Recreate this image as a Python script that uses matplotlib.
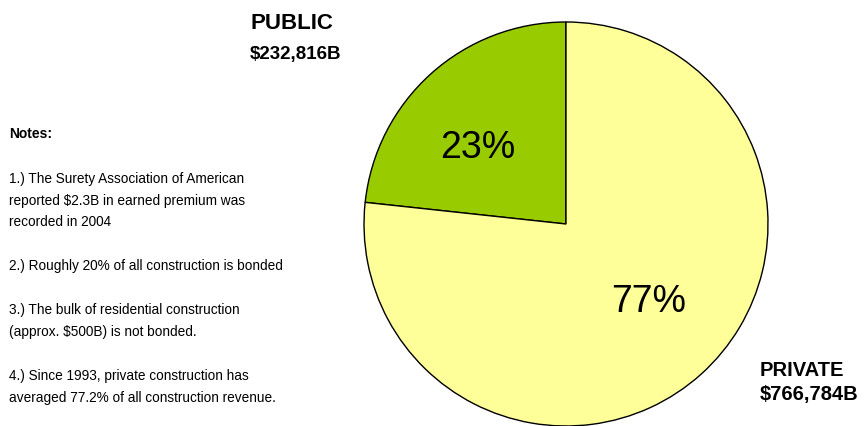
import matplotlib
matplotlib.use("Agg")
import matplotlib.pyplot as plt

plt.rcParams['font.family'] = ['Liberation Sans', 'DejaVu Sans']

# data
segments = ['PUBLIC', 'PRIVATE']
values = [232816, 766784]          # $ billions (as labelled)
value_labels = ['$232,816B', '$766,784B']
colors = ['#99CC00', '#FFFF99']

notes_title = 'Notes:'
notes = [
    '1.) The Surety Association of American',
    'reported $2.3B in earned premium was',
    'recorded in 2004',
    '',
    '2.) Roughly 20% of all construction is bonded',
    '',
    '3.) The bulk of residential construction',
    '(approx. $500B) is not bonded.',
    '',
    '4.) Since 1993, private construction has',
    'averaged 77.2% of all construction revenue.',
]

W, H = 864, 426
fig = plt.figure(figsize=(W / 100, H / 100), dpi=100)
ax = fig.add_axes([0, 0, 1, 1])

# pie in pixel-like data coords (y flipped by hand: H - y)
wedges, _ = ax.pie(values, colors=colors, startangle=90, counterclock=True,
                   center=(566, H - 224), radius=202,
                   wedgeprops=dict(edgecolor='black', linewidth=1.0))
ax.set_xlim(0, W)
ax.set_ylim(0, H)
ax.set_aspect('equal')
ax.axis('off')

# percentages inside slices
total = sum(values)
pct_pos = [(478, 158), (649, 312)]
for v, (x, y) in zip(values, pct_pos):
    ax.text(x, H - y, '%.0f%%' % (100 * v / total), fontsize=27,
            ha='center', va='baseline', color='black')

# outside labels
ax.text(250, H - 29, segments[0], fontsize=16, fontweight='bold', va='baseline')
ax.text(250, H - 59, value_labels[0], fontsize=13.5, fontweight='bold', va='baseline')
ax.text(760, H - 376, segments[1], fontsize=14.5, fontweight='bold', va='baseline')
ax.text(760, H - 400, value_labels[1], fontsize=14.5, fontweight='bold', va='baseline')

# notes block
ax.text(9, H - 138, notes_title, fontsize=10, fontweight='bold', va='baseline')
y = 182.7
for line in notes:
    if line:
        ax.text(9, H - y, line, fontsize=9.8, va='baseline')
    y += 21.9

fig.savefig('out.png', dpi=100)
